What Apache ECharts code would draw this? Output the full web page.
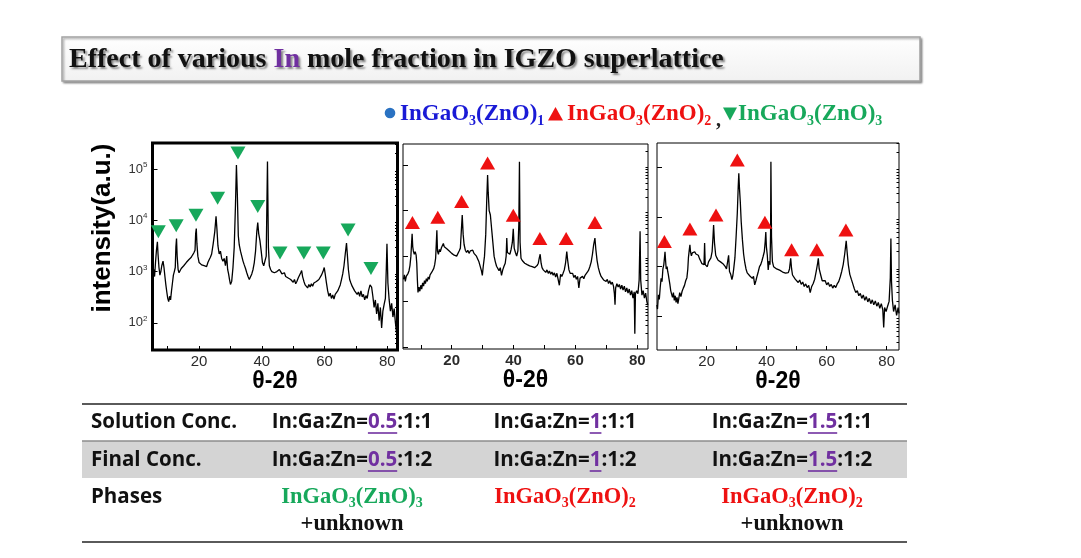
<!DOCTYPE html>
<html><head><meta charset="utf-8">
<script src="https://cdn.jsdelivr.net/npm/echarts@6/dist/echarts.min.js"></script>
<style>html,body{margin:0;padding:0;background:#fff}#c{width:1081px;height:558px}</style>
</head><body><div id="c"></div>
<script>
// ---------- data ----------
const xTickValues = [10,20,30,40,50,60,70,80];
const xLabelValues = [20,40,60,80];
const yMajorTicks = [10,100,1000,10000,100000];
const yMinorTicks = [20,30,40,50,60,70,80,90,200,300,400,500,600,700,800,900,2000,3000,4000,5000,6000,7000,8000,9000,20000,30000,40000,50000,60000,70000,80000,90000,200000,300000];
const yLabelValues = [100,1000,10000,100000];

// panel 1 : In 0.5  (2theta, intensity)
const xrd1 = [[5.2,900],[5.5,1100],[5.8,800],[6.1,1500],[6.4,2600],[6.7,3800],[6.9,2200],[7.2,1200],[7.5,850],[7.8,1000],[8.1,1300],[8.5,1600],[8.8,1200],[9.1,800],[9.4,550],[9.7,400],[10.0,300],[10.3,260],[10.6,330],[10.9,280],[11.2,420],[11.5,600],[11.8,850],[12.1,1000],[12.4,1200],[12.6,3000],[12.8,4400],[13.0,2000],[13.3,1100],[13.6,950],[13.9,1000],[14.3,1150],[14.7,1100],[15.1,1300],[15.5,1250],[15.9,1500],[16.3,1400],[16.7,1700],[17.1,1600],[17.5,1900],[17.9,2100],[18.3,2300],[18.7,2600],[18.9,5500],[19.1,6900],[19.3,3500],[19.6,2000],[20.0,1500],[20.4,1600],[20.8,1350],[21.2,1450],[21.6,1300],[22.0,1400],[22.4,1250],[22.8,1500],[23.2,1700],[23.6,1900],[24.0,2200],[24.5,3500],[25.0,6000],[25.4,12000],[25.7,6500],[26.0,3200],[26.4,2200],[26.8,2500],[27.2,1800],[27.6,1600],[28.0,1800],[28.4,1300],[28.8,2000],[29.1,1100],[29.4,900],[29.7,700],[30.0,560],[30.4,650],[30.8,1200],[31.2,3000],[31.6,20000],[31.9,120000],[32.2,30000],[32.5,5000],[32.8,3300],[33.2,2500],[33.6,2000],[34.0,1600],[34.4,1350],[34.8,1150],[35.2,950],[35.6,800],[36.0,700],[36.4,750],[36.8,900],[37.2,1100],[37.6,1500],[38.0,2500],[38.4,6000],[38.7,9000],[39.0,5500],[39.4,4000],[39.8,2500],[40.2,1500],[40.6,1300],[41.0,1200],[41.4,2000],[41.8,140000],[42.1,3000],[42.4,1300],[42.8,1100],[43.2,1000],[43.6,1050],[44.0,950],[44.4,900],[44.8,1000],[45.2,950],[45.6,1100],[46.0,1000],[46.4,900],[46.8,850],[47.2,950],[47.6,800],[48.0,850],[48.4,750],[48.8,800],[49.2,700],[49.6,760],[50.0,620],[50.4,700],[50.8,580],[51.2,650],[51.6,750],[52.0,800],[52.4,950],[52.7,1050],[53.0,800],[53.4,650],[53.8,550],[54.2,600],[54.6,480],[55.0,560],[55.4,500],[55.8,580],[56.2,520],[56.6,600],[57.0,560],[57.4,640],[57.8,600],[58.2,700],[58.6,750],[59.0,850],[59.5,1000],[59.9,1200],[60.2,900],[60.6,600],[61.0,420],[61.4,330],[61.8,380],[62.2,300],[62.6,350],[63.0,290],[63.4,360],[63.8,330],[64.2,420],[64.6,450],[65.0,550],[65.4,700],[65.8,900],[66.2,1300],[66.6,2200],[67.0,3600],[67.3,2000],[67.6,1100],[68.0,700],[68.4,600],[68.8,520],[69.2,480],[69.6,420],[70.0,450],[70.4,360],[70.8,400],[71.2,330],[71.6,420],[72.0,320],[72.4,360],[72.8,280],[73.2,340],[73.6,300],[74.0,420],[74.5,550],[75.0,500],[75.4,330],[75.8,200],[76.2,280],[76.6,150],[77.0,240],[77.4,110],[77.8,200],[78.2,80],[78.6,170],[79.0,230],[79.4,300],[79.7,1200],[79.9,3500],[80.2,600],[80.6,280],[81.0,170],[81.4,240],[81.8,130],[82.2,190],[82.6,100],[83.0,60]];
const peaks1 = [[7.0,6000],[12.7,7800],[19.0,12600],[25.9,27000],[32.4,204000],[38.7,18600],[45.8,2300],[53.4,2300],[59.6,2300],[67.5,6500],[74.8,1150]];

// panel 2 : In 1
const xrd2 = [[4.4,310],[4.7,390],[5.0,280],[5.3,360],[5.6,330],[5.9,420],[6.2,480],[6.5,620],[6.8,1000],[7.0,1800],[7.2,3100],[7.4,1600],[7.6,1300],[7.9,1100],[8.2,1250],[8.5,1050],[8.7,700],[8.9,300],[9.1,160],[9.4,210],[9.7,170],[10.0,230],[10.3,190],[10.6,260],[10.9,220],[11.2,290],[11.5,250],[11.8,320],[12.1,280],[12.4,350],[12.7,310],[13.0,390],[13.3,360],[13.6,450],[13.9,420],[14.2,540],[14.5,650],[14.8,900],[15.0,1800],[15.2,3700],[15.4,1300],[15.7,1100],[16.0,1400],[16.3,1250],[16.7,1550],[17.0,1700],[17.3,1900],[17.6,1600],[18.0,1700],[18.4,1450],[18.8,1500],[19.2,1300],[19.6,1350],[20.0,1150],[20.4,1250],[20.8,1050],[21.2,1150],[21.6,1000],[22.0,1100],[22.4,1300],[22.8,1500],[23.1,3500],[23.4,8000],[23.7,3000],[24.0,1800],[24.4,1350],[24.8,1200],[25.2,1350],[25.6,1150],[26.0,1300],[26.4,1200],[26.8,1350],[27.2,1150],[27.6,1250],[28.0,1000],[28.4,1100],[28.8,750],[29.2,800],[29.6,480],[29.9,380],[30.2,600],[30.6,1000],[31.0,3000],[31.3,15000],[31.6,60000],[31.8,25000],[32.1,10000],[32.5,8000],[32.9,4000],[33.3,2000],[33.7,1000],[34.1,750],[34.5,600],[34.9,650],[35.3,480],[35.7,560],[36.1,380],[36.5,500],[36.9,600],[37.3,700],[37.6,1000],[37.8,2500],[38.0,1200],[38.4,1300],[38.8,1100],[39.2,1400],[39.6,2000],[39.9,4000],[40.2,1500],[40.6,1200],[41.0,1000],[41.4,1300],[41.7,5000],[41.9,117000],[42.1,2000],[42.4,900],[42.8,800],[43.2,760],[43.6,700],[44.0,740],[44.4,650],[44.8,700],[45.2,610],[45.6,660],[46.0,590],[46.4,620],[46.8,560],[47.2,600],[47.6,620],[48.0,700],[48.3,900],[48.6,1100],[48.9,700],[49.2,560],[49.6,500],[50.0,540],[50.4,440],[50.8,500],[51.2,420],[51.6,470],[52.0,400],[52.4,450],[52.8,380],[53.2,430],[53.6,350],[54.0,420],[54.4,380],[54.8,230],[55.2,400],[55.6,360],[56.0,420],[56.4,500],[56.8,700],[57.2,1260],[57.5,800],[57.9,500],[58.3,420],[58.7,380],[59.1,420],[59.5,340],[59.9,380],[60.3,310],[60.7,360],[61.1,200],[61.5,330],[61.9,300],[62.3,360],[62.7,320],[63.1,380],[63.5,350],[63.9,450],[64.3,500],[64.7,600],[65.1,750],[65.5,1100],[65.9,1800],[66.3,2500],[66.6,1400],[67.0,800],[67.4,560],[67.9,420],[68.3,360],[68.7,380],[69.1,300],[69.5,330],[69.9,280],[70.3,310],[70.7,250],[71.1,290],[71.5,240],[71.9,270],[72.3,220],[72.6,150],[72.8,86],[73.0,200],[73.4,250],[73.8,210],[74.2,240],[74.6,190],[75.0,230],[75.4,180],[75.8,220],[76.2,165],[76.6,200],[77.0,155],[77.4,190],[77.8,140],[78.2,175],[78.6,120],[79.0,165],[79.2,20],[79.4,150],[79.8,175],[80.2,150],[80.6,300],[80.9,3500],[81.1,300],[81.5,140],[81.9,175],[82.3,120],[82.7,155],[83.1,100],[83.4,85]];
const peaks2 = [[7.3,5500],[15.5,7100],[23.2,15800],[31.6,110000],[39.9,7900],[48.5,2450],[57.0,2450],[66.3,5500]];

// panel 3 : In 1.5
const xrd3 = [[3.4,170],[3.6,140],[3.9,270],[4.2,220],[4.5,380],[4.8,580],[5.1,500],[5.4,900],[5.7,1100],[6.0,1700],[6.1,2000],[6.3,1300],[6.5,900],[6.8,1000],[7.0,800],[7.2,700],[7.4,580],[7.7,450],[8.0,330],[8.3,280],[8.6,240],[8.9,300],[9.2,210],[9.5,260],[9.8,190],[10.1,240],[10.4,180],[10.7,230],[11.0,300],[11.4,250],[11.8,320],[12.2,370],[12.6,420],[13.0,520],[13.4,600],[13.7,900],[13.9,1500],[14.2,2200],[14.4,2750],[14.6,2000],[14.9,1650],[15.2,1900],[15.6,1750],[16.0,2000],[16.4,1800],[16.8,1650],[17.2,1700],[17.6,1450],[18.0,1300],[18.4,1150],[18.8,1250],[19.1,1100],[19.3,3000],[19.5,1100],[19.8,1150],[20.2,1000],[20.6,1250],[21.0,1150],[21.4,1500],[21.8,2000],[22.1,4000],[22.3,6900],[22.6,3000],[23.0,1700],[23.4,1500],[23.8,1350],[24.2,1450],[24.6,1250],[25.0,1300],[25.4,1150],[25.8,1200],[26.2,1000],[26.6,900],[27.0,950],[27.3,1700],[27.6,800],[28.0,700],[28.4,550],[28.7,650],[29.0,900],[29.4,1500],[29.8,4000],[30.2,12000],[30.5,40000],[30.7,76000],[30.9,40000],[31.2,20000],[31.5,8000],[31.9,3500],[32.3,1800],[32.7,1200],[33.1,900],[33.5,750],[34.0,800],[34.4,650],[34.8,700],[35.2,580],[35.6,640],[36.0,430],[36.4,520],[36.8,650],[37.2,800],[37.6,1000],[38.0,1100],[38.4,1300],[38.8,1600],[39.2,2000],[39.5,3200],[39.7,5000],[39.9,2500],[40.2,1700],[40.5,860],[40.8,1300],[41.1,1100],[41.3,5000],[41.4,130000],[41.6,4000],[41.9,1260],[42.3,1000],[42.8,1080],[43.3,900],[43.8,950],[44.3,850],[44.8,880],[45.3,780],[45.8,820],[46.3,740],[46.8,700],[47.2,760],[47.6,900],[48.0,1470],[48.3,900],[48.6,680],[49.0,620],[49.5,560],[50.0,600],[50.5,480],[51.0,540],[51.5,440],[52.0,490],[52.5,400],[53.0,450],[53.5,380],[54.0,420],[54.5,300],[55.0,400],[55.5,460],[56.0,560],[56.5,800],[57.0,1200],[57.2,1470],[57.5,900],[58.0,680],[58.5,520],[59.0,480],[59.5,520],[60.0,430],[60.5,480],[61.0,400],[61.5,440],[62.0,370],[62.5,420],[63.0,380],[63.5,450],[64.0,500],[64.5,620],[65.0,800],[65.5,1100],[66.0,1800],[66.5,3300],[66.8,2000],[67.2,1100],[67.7,700],[68.2,560],[68.7,450],[69.2,360],[69.7,300],[70.2,330],[70.7,260],[71.2,290],[71.7,230],[72.2,270],[72.7,210],[73.2,250],[73.7,195],[74.2,230],[74.7,180],[75.2,215],[75.7,170],[76.2,205],[76.7,160],[77.2,190],[77.7,145],[78.2,180],[78.7,135],[79.0,60],[79.3,150],[79.8,125],[80.3,160],[80.8,200],[81.2,600],[81.4,3700],[81.6,500],[81.9,210],[82.3,125],[82.8,170],[83.3,105],[83.8,150],[84.1,115]];
const peaks3 = [[5.9,3200],[14.4,5750],[23.1,11000],[30.2,141000],[39.4,7800],[48.3,2200],[56.7,2200],[66.4,5500]];

// table texts
const rowLabels = ['Solution Conc.', 'Final Conc.', 'Phases'];
const inFractions = ['0.5', '1', '1.5'];
const solutionRest = ':1:1';
const finalRest = ':1:2';
const phaseZnO = ['3', '2', '2'];
const phaseUnknown = [true, false, true];

// ---------- layout / style ----------
const SANS = 'Liberation Sans', SERIF = 'Liberation Serif';
const GREEN = '#17a85b', RED = '#ee1111', BLUE = '#1a1ad6', PURPLE = '#7030a0';
const panels = [
  {grid:{left:152.5, top:143, width:245, height:207}, bw:3, xr:[5.14,83.26], yr:[29.6,321000], data:xrd1, marks:peaks1, color:GREEN, rot:180, bold:false, ylab:true},
  {grid:{left:403, top:144, width:245, height:205}, bw:1, xr:[4.25,83.46], yr:[9.2,288000], data:xrd2, marks:peaks2, color:RED, rot:0, bold:true, ylab:false},
  {grid:{left:657, top:143, width:242, height:207}, bw:1, xr:[3.43,84.1], yr:[21,309000], data:xrd3, marks:peaks3, color:RED, rot:0, bold:false, ylab:false}
];

const grid = [], xAxis = [], yAxis = [], series = [];
panels.forEach((p, i) => {
  grid.push(Object.assign({show:true, borderColor:'#000', borderWidth:p.bw, backgroundColor:'transparent', containLabel:false}, p.grid));
  xAxis.push({type:'value', gridIndex:i, min:p.xr[0], max:p.xr[1],
    axisLine:{show:false}, splitLine:{show:false},
    axisTick:{show:true, inside:true, length:4, customValues:xTickValues, lineStyle:{color:'#000', width:1}},
    axisLabel:{show:true, customValues:xLabelValues, margin:4, fontSize:15, fontFamily:SANS, fontWeight:p.bold?'bold':'normal', color:'#2b2b2b'},
    name:'θ-2θ', nameLocation:'middle', nameGap:16,
    nameTextStyle:{fontSize:23, fontWeight:'bold', fontFamily:SANS, color:'#000'}});
  yAxis.push({type:'log', logBase:10, gridIndex:i, min:p.yr[0], max:p.yr[1],
    axisLine:{show:false}, splitLine:{show:false}, minorTick:{show:false},
    axisTick:{show:true, inside:true, length:5, customValues:yMajorTicks, lineStyle:{color:'#000', width:1}},
    axisLabel:{show:p.ylab, customValues:yLabelValues, margin:5, fontSize:13, lineHeight:16, fontFamily:SANS, color:'#333',
      formatter: v => '10{s|' + Math.round(Math.log10(v)) + '}',
      rich:{s:{fontSize:8, lineHeight:8, verticalAlign:'top', fontFamily:SANS, color:'#333'}}}});
  series.push({type:'line', xAxisIndex:i, yAxisIndex:i, data:p.data, symbol:'none', clip:true,
    lineStyle:{color:'#000', width:1.3}, z:2, animation:false});
  series.push({type:'scatter', xAxisIndex:i, yAxisIndex:i, data:p.marks, symbol:'triangle', symbolRotate:p.rot,
    symbolSize:[15,13], itemStyle:{color:p.color, opacity:1}, z:5, animation:false});
});
// minor tick overlay axes
panels.forEach((p, i) => {
  yAxis.push({type:'log', logBase:10, gridIndex:i, min:p.yr[0], max:p.yr[1],
    axisLine:{show:false}, splitLine:{show:false}, axisLabel:{show:false},
    axisTick:{show:true, inside:true, length:2.5, customValues:yMinorTicks, lineStyle:{color:'#000', width:1}}});
});

// ---------- graphic (title, legend, table) ----------
const mctx = document.createElement('canvas').getContext('2d');
function tw(t, font){ mctx.font = font; return mctx.measureText(t).width; }

const g = [];
// title box
g.push({type:'rect', shape:{x:62, y:37, width:858, height:44}, z:1,
  style:{fill:{type:'linear', x:0, y:0, x2:0, y2:1, colorStops:[{offset:0, color:'#ffffff'},{offset:1, color:'#f1f1f1'}]},
  stroke:'#a3a3a3', lineWidth:1.5, shadowBlur:2, shadowOffsetX:1.5, shadowOffsetY:1.5, shadowColor:'rgba(0,0,0,0.35)'}});
const tShadow = {textShadowColor:'rgba(0,0,0,0.45)', textShadowBlur:2, textShadowOffsetX:2, textShadowOffsetY:2};
g.push({type:'text', x:69, y:60, z:2, style:Object.assign({
  text:'{a|Effect of various }{b|In}{a| mole fraction in IGZO superlattice}',
  verticalAlign:'middle', textAlign:'left',
  rich:{a:Object.assign({fontFamily:SERIF, fontWeight:'bold', fontSize:28, fill:'#111'}, tShadow),
        b:Object.assign({fontFamily:SERIF, fontWeight:'bold', fontSize:28, fill:PURPLE}, tShadow)}}, tShadow)});

// legend
function formula(col, n, size, subSize, lh){
  return {main:{fontFamily:SERIF, fontWeight:'bold', fontSize:size, lineHeight:lh, fill:col},
          sub:{fontFamily:SERIF, fontWeight:'bold', fontSize:subSize, lineHeight:subSize+2, verticalAlign:'bottom', fill:col}};
}
function formulaText(n){ return '{m|InGaO}{s|3}{m|(ZnO)}{s|' + n + '}'; }
const legendItems = [
  {x:400, col:BLUE, n:'1'}, {x:567, col:RED, n:'2'}, {x:738, col:GREEN, n:'3'}];
legendItems.forEach(it => {
  const f = formula(it.col, it.n, 23, 14, 28);
  g.push({type:'text', x:it.x, y:114, style:{text:formulaText(it.n), textAlign:'left', verticalAlign:'middle', rich:{m:f.main, s:f.sub}}});
});
g.push({type:'text', x:716, y:121, style:{text:',', fontFamily:SERIF, fontWeight:'bold', fontSize:20, fill:'#222', textAlign:'left', verticalAlign:'middle'}});
g.push({type:'circle', shape:{cx:390, cy:113, r:5.3}, style:{fill:'#2a72c2'}});
g.push({type:'polygon', shape:{points:[[548,120.5],[563,120.5],[555.5,107]]}, style:{fill:RED}});
g.push({type:'polygon', shape:{points:[[723,107.5],[737,107.5],[730,120.5]]}, style:{fill:GREEN}});

// y-axis name
g.push({type:'text', x:103, y:228, rotation:Math.PI/2, style:{text:'intensity(a.u.)', fontFamily:SANS, fontWeight:'bold', fontSize:26, fill:'#000', textAlign:'center', verticalAlign:'middle'}});

// table
const TL = 82, TR = 907;
g.push({type:'rect', shape:{x:TL, y:441, width:TR-TL, height:37}, style:{fill:'#d4d4d4'}});
g.push({type:'line', shape:{x1:TL, y1:441, x2:TR, y2:441}, style:{stroke:'#8d8d8d', lineWidth:1.5}});
g.push({type:'line', shape:{x1:TL, y1:404, x2:TR, y2:404}, style:{stroke:'#5a5a5a', lineWidth:2}});
g.push({type:'line', shape:{x1:TL, y1:542, x2:TR, y2:542}, style:{stroke:'#5a5a5a', lineWidth:2}});
const TF = 'Open Sans', TW = 'bold', TS = 20.5;
const tfont = TW + ' ' + TS + 'px "' + TF + '"';
const rowY = [422, 460, 497];
rowLabels.forEach((t, r) => {
  g.push({type:'text', x:91, y:rowY[r], style:{text:t, fontFamily:TF, fontWeight:TW, fontSize:TS, fill:'#111', textAlign:'left', verticalAlign:'middle'}});
});
const colX = [352, 565, 792];
[solutionRest, finalRest].forEach((rest, r) => {
  inFractions.forEach((v, c) => {
    const pre = 'In:Ga:Zn=';
    const w1 = tw(pre, tfont), w2 = tw(v, tfont), w3 = tw(rest, tfont);
    const x0 = colX[c] - (w1 + w2 + w3) / 2;
    const st = {fontFamily:TF, fontWeight:TW, fontSize:TS, verticalAlign:'middle', textAlign:'left'};
    g.push({type:'text', x:x0, y:rowY[r], style:Object.assign({text:pre, fill:'#111'}, st)});
    g.push({type:'text', x:x0 + w1, y:rowY[r], style:Object.assign({text:v, fill:PURPLE}, st)});
    g.push({type:'text', x:x0 + w1 + w2, y:rowY[r], style:Object.assign({text:rest, fill:'#111'}, st)});
    g.push({type:'line', shape:{x1:x0 + w1, y1:rowY[r] + 11, x2:x0 + w1 + w2, y2:rowY[r] + 11}, style:{stroke:PURPLE, lineWidth:1.6}});
  });
});
phaseZnO.forEach((n, c) => {
  const col = n === '3' ? GREEN : RED;
  const f = formula(col, n, 22.5, 14, 27);
  g.push({type:'text', x:colX[c], y:497, style:{text:formulaText(n), textAlign:'center', verticalAlign:'middle', rich:{m:f.main, s:f.sub}}});
  if (phaseUnknown[c]) {
    g.push({type:'text', x:colX[c], y:524, style:{text:'+unknown', fontFamily:SERIF, fontWeight:'bold', fontSize:22.5, fill:'#111', textAlign:'center', verticalAlign:'middle'}});
  }
});

const chart = echarts.init(document.getElementById('c'), null, {renderer:'canvas'});
chart.setOption({animation:false, backgroundColor:'#fff', grid, xAxis, yAxis, series, graphic:{elements:g}});
</script></body></html>
